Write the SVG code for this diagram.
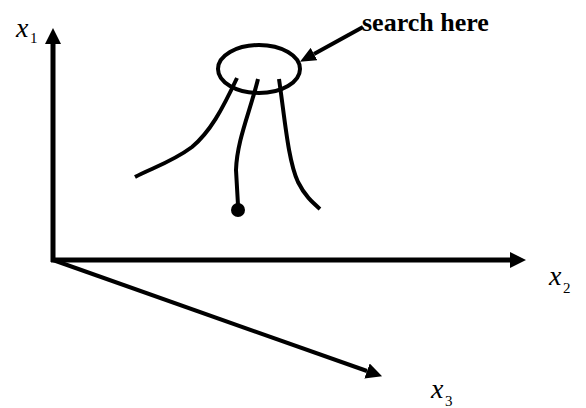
<svg xmlns="http://www.w3.org/2000/svg" width="586" height="408" viewBox="0 0 586 408">
<defs>
<style>
.ax{stroke:#000;stroke-width:5;fill:none}
.ln{stroke:#000;stroke-width:4;fill:none}
.lbl{font-family:"Liberation Serif","Times New Roman",serif;font-style:italic;fill:#000}
.sub{font-family:"Liberation Serif","Times New Roman",serif;fill:#000}
.note{font-family:"Liberation Serif","Times New Roman",serif;font-weight:bold;fill:#000}
</style>
<marker id="ah" markerUnits="userSpaceOnUse" markerWidth="16" markerHeight="16" refX="0" refY="8" orient="auto" viewBox="0 0 16 16"><path d="M0,0 L16,8 L0,16 z" fill="#000"/></marker>
<marker id="ahs" markerUnits="userSpaceOnUse" markerWidth="16" markerHeight="14" refX="0" refY="7" orient="auto" viewBox="0 0 16 14"><path d="M0,0 L16,7 L0,14 z" fill="#000"/></marker>
</defs>
<g id="connectors">
<line id="axis-x1" class="ax" x1="53" y1="262" x2="53" y2="44" marker-end="url(#ah)"/>
<line id="axis-x2" class="ax" x1="51" y1="260" x2="510" y2="260" marker-end="url(#ah)"/>
<line id="axis-x3" class="ln" x1="53" y1="260" x2="367" y2="371" marker-end="url(#ah)"/>
<line id="search-arrow" class="ln" x1="363" y1="27" x2="314" y2="54" marker-end="url(#ahs)"/>
</g>
<g id="region">
<ellipse cx="259" cy="69" rx="41" ry="24" class="ln"/>
</g>
<g id="paths">
<path class="ln" d="M237,78 C222,110 210,132 192,147 C172,162 152,168 135,177"/>
<path class="ln" d="M258,79 C250,112 237,140 236,170 L238,205"/>
<circle cx="238" cy="210" r="7" fill="#000"/>
<path class="ln" d="M279,79 C285,120 288,160 298,182 C305,196 312,202 320,209"/>
</g>
<g id="labels">
<text class="lbl" x="16" y="37" font-size="28">x</text><text class="sub" x="30" y="43" font-size="15">1</text>
<text class="lbl" x="549" y="285" font-size="28">x</text><text class="sub" x="563" y="293" font-size="15">2</text>
<text class="lbl" x="431" y="398" font-size="28">x</text><text class="sub" x="445" y="406" font-size="15">3</text>
<text class="note" x="362" y="31" font-size="26">search here</text>
</g>
</svg>
